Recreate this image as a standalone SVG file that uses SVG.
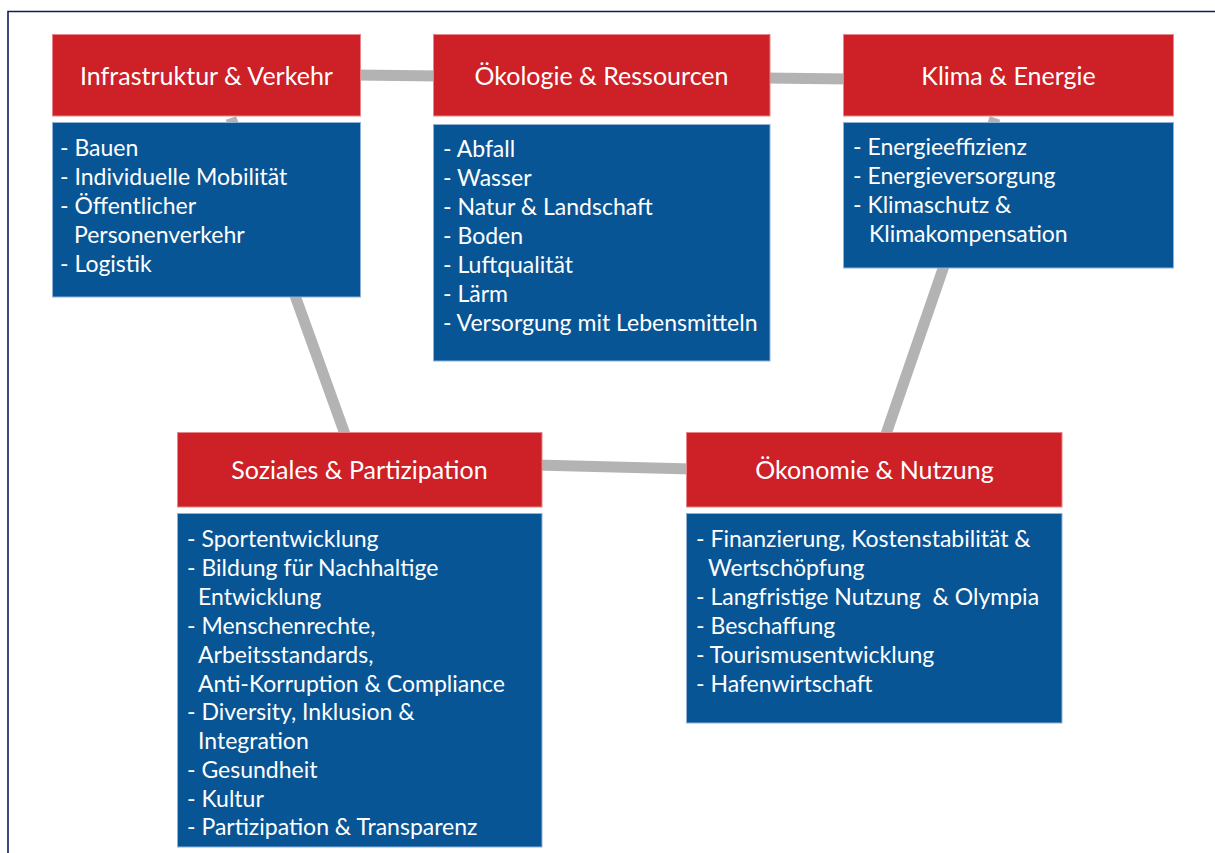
<svg xmlns="http://www.w3.org/2000/svg" width="1215" height="853" viewBox="0 0 1215 853">
  <style>
    .frame { fill: none; stroke: #0c1f5e; stroke-width: 1.6; }
    .link { stroke: #b3b3b3; stroke-width: 11; fill: none; }
    .head { fill: #cd2027; stroke: #e8858a; stroke-width: 1; }
    .body { fill: #085595; stroke: #8fb2d6; stroke-width: 1; }
    .title { font-family: Lato, "Open Sans", sans-serif; font-size: 25px; fill: #ffffff; text-anchor: middle; }
    .item { font-family: Lato, "Open Sans", sans-serif; font-size: 23px; fill: #ffffff; white-space: pre; }
  </style>

  <rect width="1215" height="853" fill="#ffffff"/>
  <!-- page frame (open to the right and bottom) -->
  <path class="frame" d="M8,853 V11.5 H1215"/>

  <!-- connectors between topic areas -->
  <g id="connectors">
    <line class="link" x1="355" y1="75" x2="440" y2="76"/>
    <line class="link" x1="765" y1="78" x2="850" y2="79"/>
    <line class="link" x1="231" y1="118" x2="346" y2="437"/>
    <line class="link" x1="995" y1="118" x2="885" y2="437"/>
    <line class="link" x1="536" y1="465" x2="692" y2="469"/>
  </g>

  <g id="infrastruktur">
    <rect class="head" x="52.5" y="34.5" width="308" height="81.5"/>
    <text class="title" x="206.5" y="85">Infrastruktur &amp; Verkehr</text>
    <rect class="body" x="52.5" y="122.5" width="308" height="174.5"/>
    <text class="item" x="60" y="156">- Bauen</text>
    <text class="item" x="60" y="185">- Individuelle Mobilität</text>
    <text class="item" x="60" y="214">- Öffentlicher</text>
    <text class="item" x="74" y="243">Personenverkehr</text>
    <text class="item" x="60" y="272">- Logistik</text>
  </g>

  <g id="oekologie">
    <rect class="head" x="433.5" y="34.5" width="336.5" height="81.5"/>
    <text class="title" x="601.5" y="85">Ökologie &amp; Ressourcen</text>
    <rect class="body" x="433.5" y="124.5" width="336.5" height="236.5"/>
    <text class="item" x="443" y="157">- Abfall</text>
    <text class="item" x="443" y="186">- Wasser</text>
    <text class="item" x="443" y="215">- Natur &amp; Landschaft</text>
    <text class="item" x="443" y="244">- Boden</text>
    <text class="item" x="443" y="273">- Luftqualität</text>
    <text class="item" x="443" y="302">- Lärm</text>
    <text class="item" x="443" y="331">- Versorgung mit Lebensmitteln</text>
  </g>

  <g id="klima">
    <rect class="head" x="843.5" y="34.5" width="330" height="81.5"/>
    <text class="title" x="1008.5" y="85">Klima &amp; Energie</text>
    <rect class="body" x="843.5" y="122.5" width="330" height="145.5"/>
    <text class="item" x="853" y="155">- Energieeffizienz</text>
    <text class="item" x="853" y="184">- Energieversorgung</text>
    <text class="item" x="853" y="213">- Klimaschutz &amp;</text>
    <text class="item" x="869" y="242">Klimakompensation</text>
  </g>

  <g id="soziales">
    <rect class="head" x="177.5" y="432.5" width="364.5" height="74.5"/>
    <text class="title" x="359.5" y="479">Soziales &amp; Partizipation</text>
    <rect class="body" x="177.5" y="513.5" width="364.5" height="333.5"/>
    <text class="item" x="187" y="547">- Sportentwicklung</text>
    <text class="item" x="187" y="576">- Bildung für Nachhaltige</text>
    <text class="item" x="198" y="605">Entwicklung</text>
    <text class="item" x="187" y="634">- Menschenrechte,</text>
    <text class="item" x="198" y="663">Arbeitsstandards,</text>
    <text class="item" x="198" y="692">Anti-Korruption &amp; Compliance</text>
    <text class="item" x="187" y="720">- Diversity, Inklusion &amp;</text>
    <text class="item" x="198" y="749">Integration</text>
    <text class="item" x="187" y="778">- Gesundheit</text>
    <text class="item" x="187" y="807">- Kultur</text>
    <text class="item" x="187" y="835">- Partizipation &amp; Transparenz</text>
  </g>

  <g id="oekonomie">
    <rect class="head" x="686.5" y="432.5" width="375.5" height="74.5"/>
    <text class="title" x="874.5" y="479">Ökonomie &amp; Nutzung</text>
    <rect class="body" x="686.5" y="513.5" width="375.5" height="209.5"/>
    <text class="item" x="696" y="547">- Finanzierung, Kostenstabilität &amp;</text>
    <text class="item" x="708" y="576">Wertschöpfung</text>
    <text class="item" x="696" y="605">- Langfristige Nutzung  &amp; Olympia</text>
    <text class="item" x="696" y="634">- Beschaffung</text>
    <text class="item" x="696" y="663">- Tourismusentwicklung</text>
    <text class="item" x="696" y="692">- Hafenwirtschaft</text>
  </g>
</svg>
